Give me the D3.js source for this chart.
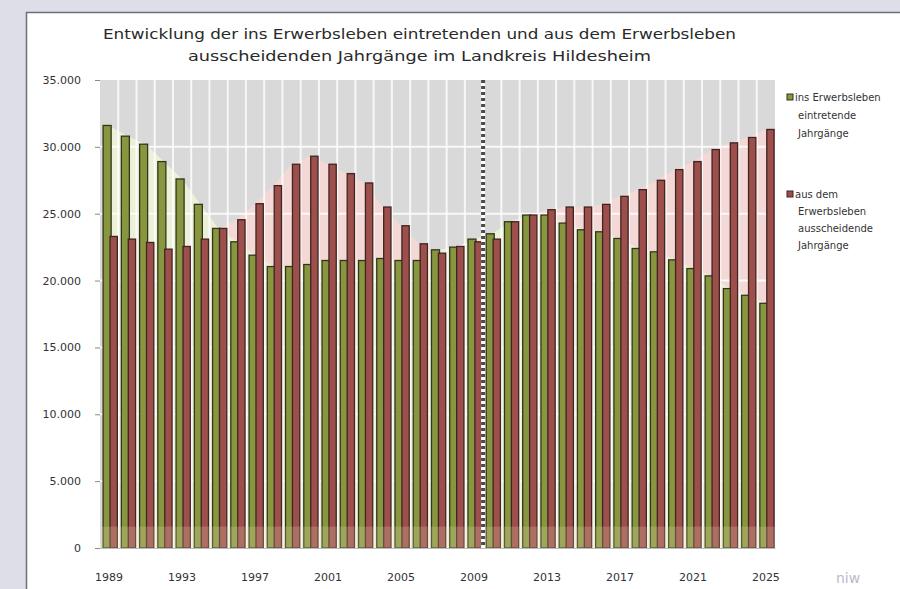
<!DOCTYPE html>
<html>
<head>
<meta charset="utf-8">
<script src="https://cdn.jsdelivr.net/npm/d3@7"></script>
<style>
  html, body { margin: 0; padding: 0; background: #dedee8; }
  svg { display: block; }
</style>
</head>
<body>
<div id="chart"></div>
<script>
/** Data */
const years = [1989, 1990, 1991, 1992, 1993, 1994, 1995, 1996, 1997, 1998, 1999,
  2000, 2001, 2002, 2003, 2004, 2005, 2006, 2007, 2008, 2009, 2010, 2011, 2012,
  2013, 2014, 2015, 2016, 2017, 2018, 2019, 2020, 2021, 2022, 2023, 2024, 2025];
// ins Erwerbsleben eintretende Jahrgänge
const entering = [31600, 30800, 30200, 28900, 27600, 25700, 23900, 22900, 21900,
  21050, 21050, 21200, 21500, 21500, 21500, 21650, 21500, 21500, 22300, 22500,
  23100, 23500, 24400, 24900, 24900, 24300, 23800, 23650, 23150, 22400, 22150,
  21550, 20900, 20350, 19400, 18900, 18300];
// aus dem Erwerbsleben ausscheidende Jahrgänge
const leaving = [23300, 23100, 22850, 22350, 22550, 23100, 23900, 24550, 25750,
  27100, 28700, 29300, 28700, 28000, 27300, 25500, 24100, 22750, 22050, 22550,
  22900, 23100, 24400, 24900, 25300, 25500, 25500, 25700, 26300, 26800, 27500,
  28300, 28900, 29800, 30300, 30700, 31300];
const yTicks = [0, 5000, 10000, 15000, 20000, 25000, 30000, 35000];
const xLabels = [1989, 1993, 1997, 2001, 2005, 2009, 2013, 2017, 2021, 2025];
const markerYear = 2009; // dotted line after this year
const titleLines = [
  "Entwicklung der ins Erwerbsleben eintretenden und aus dem Erwerbsleben",
  "ausscheidenden Jahrgänge im Landkreis Hildesheim"
];
const legendItems = [
  { lines: ["ins Erwerbsleben", "eintretende", "Jahrgänge"], key: "in" },
  { lines: ["aus dem", "Erwerbsleben", "ausscheidende", "Jahrgänge"], key: "out" }
];

/** Graph configs */
const W = 900, H = 589;
const plot = { left: 100, right: 775, top: 80, bottom: 548 };
const colors = {
  in: "#87963f", inStroke: "#33351a",
  out: "#9c4f4b", outStroke: "#3f2422",
  bg: "#d9d9d9", inArea: "#ebf0d8", outArea: "#f4d8d5"
};
const font = "'DejaVu Sans', sans-serif";

const de = d3.formatLocale({ decimal: ",", thousands: ".", grouping: [3], currency: ["", " €"] });
const fmt = de.format(",");

const rows = years.map((y, i) => ({ year: y, in: entering[i], out: leaving[i] }));

const svg = d3.select("#chart").append("svg")
  .attr("width", W).attr("height", H);

// white panel with grey border
svg.append("rect").attr("x", 27).attr("y", 12).attr("width", W).attr("height", H)
  .attr("fill", "#fff");
svg.append("path").attr("d", `M26.5,${H} V12.5 H${W}`)
  .attr("fill", "none").attr("stroke", "#6e6e78").attr("stroke-width", 1.5);

const x = d3.scaleBand().domain(years).range([plot.left, plot.right]).padding(0);
const y = d3.scaleLinear().domain([0, 35000]).range([plot.bottom, plot.top]);
const bw = x.bandwidth();

// plot background
svg.append("rect")
  .attr("x", plot.left).attr("y", plot.top)
  .attr("width", plot.right - plot.left).attr("height", plot.bottom - plot.top)
  .attr("fill", colors.bg);

// background areas (pink for leaving, light green for entering)
const cx = (d) => x(d.year) + bw / 2;
const areaOut = d3.area().x(cx).y0(y(0)).y1((d) => y(d.out));
const areaIn = d3.area().x(cx).y0(y(0)).y1((d) => y(d.in));
svg.append("path").attr("d", areaOut(rows)).attr("fill", colors.outArea);
svg.append("path").attr("d", areaIn(rows)).attr("fill", colors.inArea);

// gridlines
svg.append("g").selectAll("line").data(yTicks.filter((t) => t > 0 && t < 35000))
  .join("line")
  .attr("x1", plot.left).attr("x2", plot.right)
  .attr("y1", (d) => y(d)).attr("y2", (d) => y(d))
  .attr("stroke", "#fff").attr("stroke-width", 2).attr("opacity", 0.85);
svg.append("g").selectAll("line").data(years.slice(1))
  .join("line")
  .attr("x1", (d) => x(d)).attr("x2", (d) => x(d))
  .attr("y1", plot.top).attr("y2", plot.bottom)
  .attr("stroke", "#fff").attr("stroke-width", 2).attr("opacity", 0.8);

// bars
const bars = svg.append("g");
bars.selectAll(".in").data(rows).join("rect")
  .attr("class", "in")
  .attr("x", (d) => x(d.year) + bw * 0.17)
  .attr("width", bw * 0.44)
  .attr("y", (d) => y(d.in))
  .attr("height", (d) => y(0) - y(d.in))
  .attr("fill", colors.in).attr("stroke", colors.inStroke).attr("stroke-width", 1.3);
bars.selectAll(".out").data(rows).join("rect")
  .attr("class", "out")
  .attr("x", (d) => x(d.year) + bw * 0.55)
  .attr("width", bw * 0.4)
  .attr("y", (d) => y(d.out))
  .attr("height", (d) => y(0) - y(d.out))
  .attr("fill", colors.out).attr("stroke", colors.outStroke).attr("stroke-width", 1.3);

// faint beige band at the floor
svg.append("rect")
  .attr("x", plot.left).attr("width", plot.right - plot.left)
  .attr("y", y(1600)).attr("height", y(0) - y(1600))
  .attr("fill", "#f2dfb8").attr("opacity", 0.22);

// dotted marker line
const mx = x(markerYear) + bw;
svg.append("line").attr("x1", mx).attr("x2", mx).attr("y1", plot.top).attr("y2", plot.bottom)
  .attr("stroke", "#fff").attr("stroke-width", 4);
svg.append("line").attr("x1", mx).attr("x2", mx).attr("y1", plot.top).attr("y2", plot.bottom)
  .attr("stroke", "#4a4a4a").attr("stroke-width", 4).attr("stroke-dasharray", "3,3");

// y axis
const yAxis = svg.append("g")
  .attr("transform", `translate(${plot.left},0)`)
  .call(d3.axisLeft(y).tickValues(yTicks).tickFormat(fmt).tickSize(5).tickPadding(14));
yAxis.select(".domain").remove();
yAxis.selectAll(".tick line").attr("stroke", "#888");
yAxis.selectAll("text").attr("font-family", font).attr("font-size", 11).attr("fill", "#333");

// x axis
const xAxis = svg.append("g")
  .attr("transform", `translate(0,${plot.bottom})`)
  .call(d3.axisBottom(x).tickValues(xLabels).tickSize(0).tickPadding(25));
xAxis.select(".domain").attr("stroke", "#bbb");
xAxis.selectAll("text").attr("font-family", font).attr("font-size", 11).attr("fill", "#333");

// title
svg.append("g").selectAll("text").data(titleLines).join("text")
  .attr("x", (d, i) => (i === 0 ? 103 : 188))
  .attr("y", (d, i) => 39 + i * 22)
  .attr("textLength", (d, i) => (i === 0 ? 633 : 463))
  .attr("lengthAdjust", "spacingAndGlyphs")
  .attr("font-family", font).attr("font-size", 14).attr("fill", "#2a2a2a")
  .text((d) => d);

// legend
const legend = svg.append("g");
legendItems.forEach((item, k) => {
  const top = k === 0 ? 99 : 196;
  const step = k === 0 ? 18 : 17;
  legend.append("rect")
    .attr("x", 787).attr("y", top - 5).attr("width", 6).attr("height", 6)
    .attr("fill", colors[item.key]).attr("stroke", colors[item.key + "Stroke"]);
  item.lines.forEach((ln, j) => {
    legend.append("text")
      .attr("x", j === 0 ? 795 : 798).attr("y", top + 2 + j * step)
      .attr("font-family", font).attr("font-size", 10).attr("fill", "#333")
      .text(ln);
  });
});

// faint logo remnant, bottom right
svg.append("text").attr("x", 836).attr("y", 583)
  .attr("font-family", font).attr("font-size", 14).attr("fill", "#b8bcc8")
  .text("niw");
</script>
</body>
</html>
